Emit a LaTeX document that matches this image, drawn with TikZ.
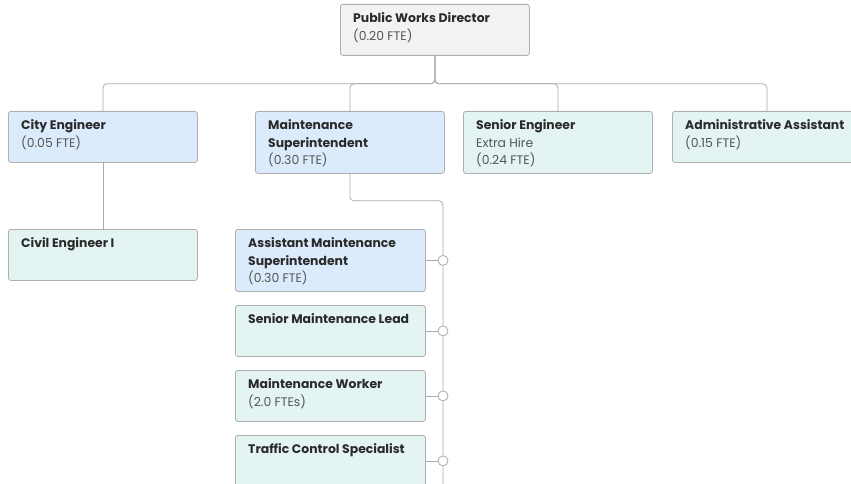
\documentclass[tikz,border=0pt]{standalone}
\usepackage{fontspec}
\setmainfont{Poppins}
\definecolor{bluef}{HTML}{DCEBFC}
\definecolor{tealf}{HTML}{E3F4F3}
\definecolor{greyf}{HTML}{F2F2F2}
\definecolor{bordc}{HTML}{AFAFAF}
\definecolor{linec}{HTML}{ABABAB}
\definecolor{titc}{HTML}{2A2A2A}
\definecolor{subc}{HTML}{555555}
\tikzset{
  box/.style={draw=bordc, line width=0.8pt, rounded corners=2.5pt, minimum width=189pt, anchor=north west, inner sep=0pt},
  bluebox/.style={box, fill=bluef},
  tealbox/.style={box, fill=tealf},
  greybox/.style={box, fill=greyf},
  txt/.style={anchor=north west, align=left, inner sep=0pt, text=titc, font=\fontsize{12.4}{17.5}\selectfont},
  conn/.style={draw=linec, line width=0.8pt, rounded corners=4pt},
  dot/.style={circle, draw=linec, fill=white, line width=0.8pt, minimum size=10pt, inner sep=0pt}
}
\newcommand{\ttl}[1]{\textbf{#1}}
\newcommand{\sbt}[1]{{\color{subc}#1}}
\begin{document}
\begin{tikzpicture}[x=1pt, y=-1pt]
\useasboundingbox (0,0) rectangle (851,484);
\clip (0,0) rectangle (851,484);
% boxes
\node[greybox, minimum height=51pt] (pwd) at (340,4) {};
\node[bluebox, minimum height=51pt] (ce) at (8,111) {};
\node[bluebox, minimum height=62pt] (ms) at (255,111) {};
\node[tealbox, minimum height=62pt] (se) at (463,111) {};
\node[tealbox, minimum height=51pt] (aa) at (672,111) {};
\node[tealbox, minimum height=51pt] (civ) at (8,229) {};
\node[bluebox, minimum width=190pt, minimum height=62pt] (ams) at (235,229) {};
\node[tealbox, minimum width=190pt, minimum height=51pt] (sml) at (235,305) {};
\node[tealbox, minimum width=190pt, minimum height=51pt] (mw) at (235,370) {};
\node[tealbox, minimum width=190pt, minimum height=51pt] (tcs) at (235,435) {};
% texts
\node[txt] (tpwd) at ([xshift=13pt, yshift=-8.5pt]pwd.north west) {\ttl{Public Works Director}\\\sbt{(0.20 FTE)}};
\node[txt] (tce) at ([xshift=13pt, yshift=-8.5pt]ce.north west) {\ttl{City Engineer}\\\sbt{(0.05 FTE)}};
\node[txt] (tms) at ([xshift=13pt, yshift=-8.5pt]ms.north west) {\ttl{Maintenance}\\\ttl{Superintendent}\\\sbt{(0.30 FTE)}};
\node[txt] (tse) at ([xshift=13pt, yshift=-8.5pt]se.north west) {\ttl{Senior Engineer}\\\sbt{Extra Hire}\\\sbt{(0.24 FTE)}};
\node[txt] (taa) at ([xshift=13pt, yshift=-8.5pt]aa.north west) {\ttl{Administrative Assistant}\\\sbt{(0.15 FTE)}};
\node[txt] (tciv) at ([xshift=13pt, yshift=-8.5pt]civ.north west) {\ttl{Civil Engineer I}};
\node[txt] (tams) at ([xshift=13pt, yshift=-8.5pt]ams.north west) {\ttl{Assistant Maintenance}\\\ttl{Superintendent}\\\sbt{(0.30 FTE)}};
\node[txt] (tsml) at ([xshift=13pt, yshift=-8.5pt]sml.north west) {\ttl{Senior Maintenance Lead}};
\node[txt] (tmw) at ([xshift=13pt, yshift=-8.5pt]mw.north west) {\ttl{Maintenance Worker}\\\sbt{(2.0 FTEs)}};
\node[txt] (ttcs) at ([xshift=13pt, yshift=-8.5pt]tcs.north west) {\ttl{Traffic Control Specialist}};
% top connectors
\draw[conn] (pwd.south) -- ++(0,28) -| (ce.north);
\draw[conn] (pwd.south) -- ++(0,28) -| (ms.north);
\draw[conn] (pwd.south) -- ++(0,28) -| (se.north);
\draw[conn] (pwd.south) -- ++(0,28) -| (aa.north);
\draw[conn] (ce.south) -- (civ.north);
% maintenance bus
\coordinate (busend) at (443,490);
\draw[conn] (ms.south) -- ++(0,27) -| (busend);
\node[dot] (d1) at (ams.east -| busend) {};
\node[dot] (d2) at (sml.east -| busend) {};
\node[dot] (d3) at (mw.east -| busend) {};
\node[dot] (d4) at (tcs.east -| busend) {};
\draw[conn] (ams.east) -- (d1.west);
\draw[conn] (sml.east) -- (d2.west);
\draw[conn] (mw.east) -- (d3.west);
\draw[conn] (tcs.east) -- (d4.west);
\end{tikzpicture}
\end{document}
